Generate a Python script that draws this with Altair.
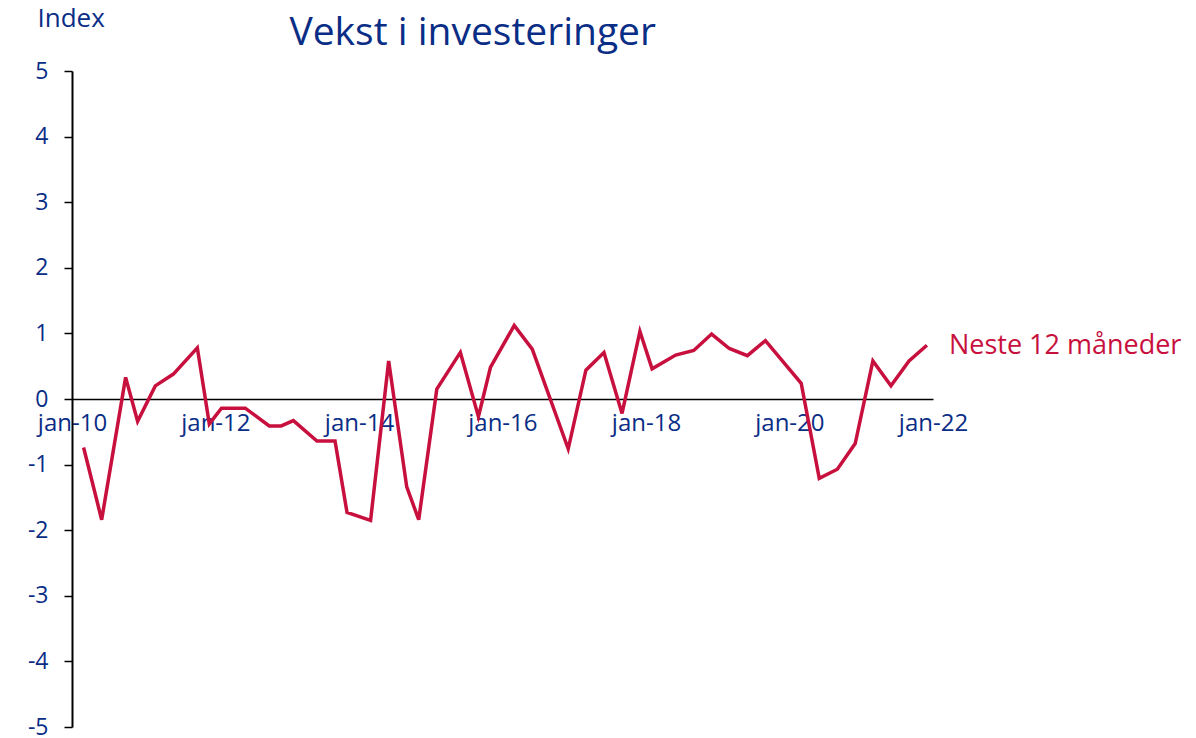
import altair as alt
import pandas as pd

dates = [
    "2010-03-01", "2010-06-01", "2010-10-01", "2010-12-01",
    "2011-03-01", "2011-06-01", "2011-10-01", "2011-12-01",
    "2012-02-01", "2012-06-01", "2012-10-01", "2012-12-01",
    "2013-02-01", "2013-06-01", "2013-09-01", "2013-11-01",
    "2014-03-01", "2014-06-01", "2014-09-01", "2014-11-01",
    "2015-02-01", "2015-06-01", "2015-09-01", "2015-11-01",
    "2016-03-01", "2016-06-01", "2016-12-01",
    "2017-03-01", "2017-06-01", "2017-09-01", "2017-12-01",
    "2018-02-01", "2018-06-01", "2018-09-01", "2018-12-01",
    "2019-03-01", "2019-06-01", "2019-09-01",
    "2020-03-01", "2020-06-01", "2020-09-01", "2020-12-01",
    "2021-03-01", "2021-06-01", "2021-09-01", "2021-12-01",
]
values = [
    -0.74, -1.84, 0.33, -0.34,
    0.20, 0.38, 0.78, -0.38,
    -0.14, -0.14, -0.41, -0.41,
    -0.33, -0.64, -0.64, -1.73,
    -1.85, 0.58, -1.34, -1.84,
    0.15, 0.71, -0.27, 0.48,
    1.12, 0.76, -0.76,
    0.44, 0.71, -0.22, 1.03,
    0.46, 0.67, 0.74, 0.99,
    0.77, 0.66, 0.89,
    0.24, -1.21, -1.07, -0.68,
    0.58, 0.20, 0.58, 0.82,
]
series_name = "Neste 12 måneder"
tick_years = [2010, 2012, 2014, 2016, 2018, 2020, 2022]
y_ticks = [-5, -4, -3, -2, -1, 0, 1, 2, 3, 4, 5]

NAVY = "#0a2d86"
RED = "#c8103e"
FONT = "Open Sans"

df = pd.DataFrame({"date": dates, "value": values})
df_label = pd.DataFrame({"date": [dates[-1]], "value": [values[-1]], "label": [series_name]})

x_enc = alt.X(
    "date:T",
    scale=alt.Scale(
        type="utc",
        domain=[alt.DateTime(year=2010, month=1, date=1, utc=True),
                alt.DateTime(year=2022, month=1, date=1, utc=True)],
    ),
    axis=alt.Axis(
        values=[alt.DateTime(year=y, month=1, date=1, utc=True) for y in tick_years],
        labelExpr="'jan-' + utcFormat(datum.value, '%y')",
        ticks=False,
        grid=False,
        offset=-328,
        domainColor="black",
        domainWidth=1.5,
        labelColor=NAVY,
        labelFontSize=24,
        labelFont=FONT,
        labelPadding=12,
        labelFlush=False,
        labelOverlap=False,
        title=None,
    ),
)
y_enc = alt.Y(
    "value:Q",
    scale=alt.Scale(domain=[-5, 5], nice=False, zero=False),
    axis=alt.Axis(
        values=y_ticks,
        labelExpr="datum.value < 0 ? '-' + abs(datum.value) : '' + datum.value",
        grid=False,
        tickSize=8,
        tickColor="black",
        tickWidth=1.5,
        domainColor="black",
        domainWidth=2,
        labelColor=NAVY,
        labelFontSize=23,
        labelFont=FONT,
        labelPadding=16,
        title="Index",
        titleAngle=0,
        titleX=-35,
        titleY=-45,
        titleAlign="left",
        titleBaseline="alphabetic",
        titleColor=NAVY,
        titleFont=FONT,
        titleFontSize=26,
        titleFontWeight="normal",
    ),
)

line = alt.Chart(df).mark_line(color=RED, strokeWidth=3.5, strokeJoin="miter").encode(x=x_enc, y=y_enc)

label = alt.Chart(df_label).mark_text(
    align="left", baseline="middle", dx=22, dy=1, color=RED, fontSize=27, font=FONT
).encode(x=alt.X("date:T"), y=alt.Y("value:Q"), text="label:N")

chart = (
    alt.layer(line, label)
    .properties(
        width=861,
        height=656,
        autosize=alt.AutoSizeParams(type="none"),
        padding={"left": 64, "top": 63, "right": 250, "bottom": 12},
        title=alt.TitleParams(
            "Vekst i investeringer",
            anchor="start",
            dx=262,
            offset=-48,
            color=NAVY,
            font=FONT,
            fontSize=39,
            fontWeight="normal",
        ),
    )
    .configure_view(stroke=None)
)

chart.save("out.html", embed_options={"renderer": "svg", "actions": False})
